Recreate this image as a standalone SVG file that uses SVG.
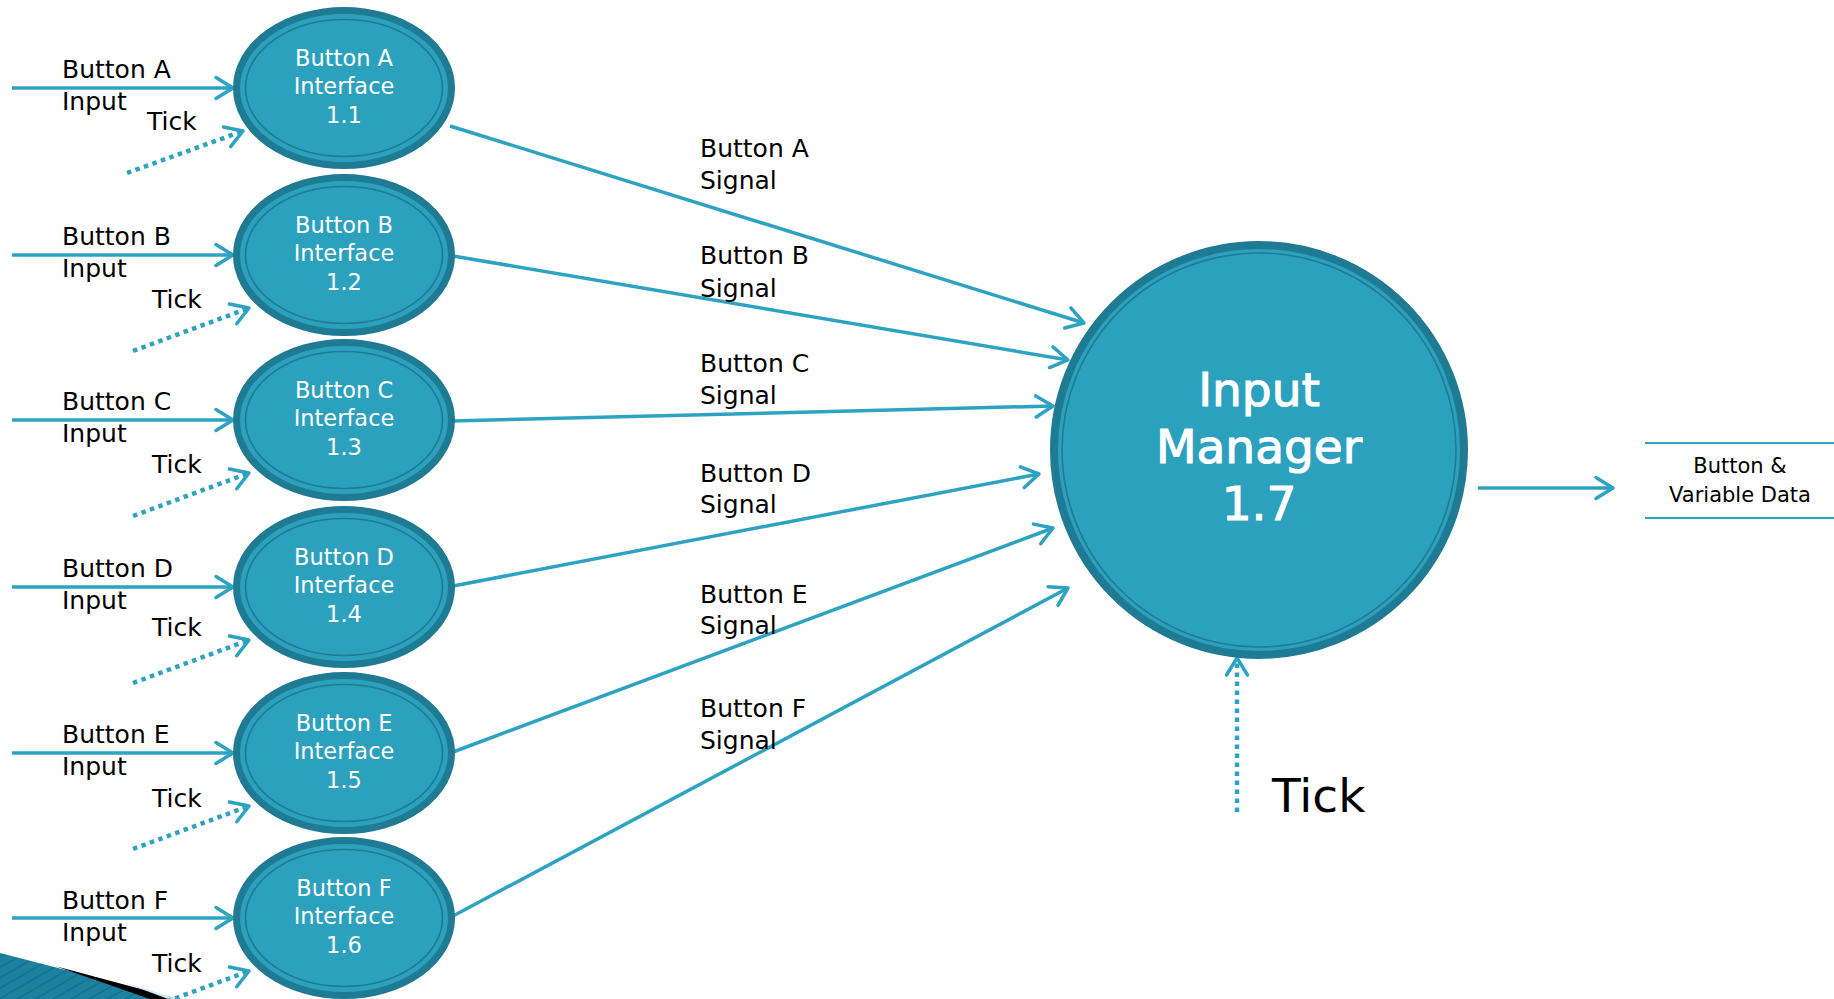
<svg xmlns="http://www.w3.org/2000/svg" width="1834" height="999" viewBox="0 0 1834 999">
  <style>
    .flow { stroke: #2EA3C1; stroke-width: 3.5; fill: none; }
    .tick { stroke: #2EA3C1; stroke-width: 4.5; stroke-dasharray: 4.5 4.5; fill: none; }
    .ring { fill: #2CA1BE; stroke: #1F7B93; stroke-width: 7; }
    .inner { fill: none; stroke: #1F7B93; stroke-width: 1.6; }
    .lbl { font-family: "DejaVu Sans", "Liberation Sans", sans-serif; font-size: 25px; fill: #000; }
    .ntxt { font-family: "DejaVu Sans", "Liberation Sans", sans-serif; font-size: 22.5px; fill: #fff; text-anchor: middle; }
    .big { font-size: 47px; stroke: #fff; stroke-width: 1.1; }
    .store { stroke: #2EA3C1; stroke-width: 2.2; fill: none; }
  </style>
  <defs>
    <marker id="chev" markerUnits="userSpaceOnUse" viewBox="-22 -14 26 28" markerWidth="26" markerHeight="28" refX="0" refY="0" orient="auto">
      <path d="M-17,-10.5 L0,0 L-17,10.5" fill="none" stroke="#2EA3C1" stroke-width="3.5" stroke-linecap="round" stroke-linejoin="round" stroke-dasharray="none"/>
    </marker>
    <pattern id="stripes" patternUnits="userSpaceOnUse" width="9" height="9" patternTransform="rotate(60)">
      <rect width="9" height="9" fill="#1C82A0"/>
      <rect width="1.5" height="9" fill="#16708C"/>
    </pattern>
  </defs>

  <!-- slide corner decoration -->
  <g id="corner">
    <polygon points="0,953 178,999 0,999" fill="url(#stripes)"/>
    <polygon points="55,966 178,999 150,999" fill="#000"/>
    <polygon points="120,981 178,999 168,999" fill="#CFE7EF"/>
  </g>

  <!-- connectors -->
  <g id="connectors">
    <!-- button inputs -->
    <line class="flow" x1="12" y1="88" x2="233" y2="88" marker-end="url(#chev)"/>
    <line class="flow" x1="12" y1="255" x2="233" y2="255" marker-end="url(#chev)"/>
    <line class="flow" x1="12" y1="420" x2="233" y2="420" marker-end="url(#chev)"/>
    <line class="flow" x1="12" y1="587" x2="233" y2="587" marker-end="url(#chev)"/>
    <line class="flow" x1="12" y1="753" x2="233" y2="753" marker-end="url(#chev)"/>
    <line class="flow" x1="12" y1="918" x2="233" y2="918" marker-end="url(#chev)"/>
    <!-- tick inputs -->
    <line class="tick" x1="127" y1="173" x2="243" y2="131" marker-end="url(#chev)"/>
    <line class="tick" x1="133" y1="351" x2="249" y2="308" marker-end="url(#chev)"/>
    <line class="tick" x1="133" y1="516" x2="249" y2="473" marker-end="url(#chev)"/>
    <line class="tick" x1="133" y1="683" x2="249" y2="640" marker-end="url(#chev)"/>
    <line class="tick" x1="133" y1="849" x2="249" y2="806" marker-end="url(#chev)"/>
    <line class="tick" x1="133" y1="1014" x2="249" y2="971" marker-end="url(#chev)"/>
    <!-- signals to manager -->
    <line class="flow" x1="450" y1="126" x2="1084" y2="323" marker-end="url(#chev)"/>
    <line class="flow" x1="453" y1="256" x2="1068" y2="360" marker-end="url(#chev)"/>
    <line class="flow" x1="452" y1="421" x2="1053" y2="406" marker-end="url(#chev)"/>
    <line class="flow" x1="453" y1="586" x2="1039" y2="474" marker-end="url(#chev)"/>
    <line class="flow" x1="453" y1="752" x2="1053" y2="528" marker-end="url(#chev)"/>
    <line class="flow" x1="453" y1="916" x2="1068" y2="588" marker-end="url(#chev)"/>
    <!-- manager tick and output -->
    <line class="tick" x1="1237" y1="812" x2="1237" y2="658" marker-end="url(#chev)"/>
    <line class="flow" x1="1478" y1="488" x2="1613" y2="488" marker-end="url(#chev)"/>
  </g>

  <!-- connector labels -->
  <g id="labels" class="lbl">
    <text x="62" y="78">Button A</text><text x="62" y="110">Input</text><text x="147" y="130">Tick</text>
    <text x="62" y="245">Button B</text><text x="62" y="277">Input</text><text x="152" y="308">Tick</text>
    <text x="62" y="410">Button C</text><text x="62" y="442">Input</text><text x="152" y="473">Tick</text>
    <text x="62" y="577">Button D</text><text x="62" y="609">Input</text><text x="152" y="636">Tick</text>
    <text x="62" y="743">Button E</text><text x="62" y="775">Input</text><text x="152" y="807">Tick</text>
    <text x="62" y="909">Button F</text><text x="62" y="941">Input</text><text x="152" y="972">Tick</text>

    <text x="700" y="157">Button A</text><text x="700" y="189">Signal</text>
    <text x="700" y="264">Button B</text><text x="700" y="297">Signal</text>
    <text x="700" y="372">Button C</text><text x="700" y="404">Signal</text>
    <text x="700" y="482">Button D</text><text x="700" y="513">Signal</text>
    <text x="700" y="603">Button E</text><text x="700" y="634">Signal</text>
    <text x="700" y="717">Button F</text><text x="700" y="749">Signal</text>

    <text x="1272" y="812" style="font-size:47px">Tick</text>
  </g>

  <!-- interface processes -->
  <g id="btnA" transform="translate(344,88)">
    <ellipse class="ring" rx="107.5" ry="77.5"/><ellipse class="inner" rx="98.5" ry="68.5"/>
    <text class="ntxt" y="-22">Button A</text><text class="ntxt" y="6">Interface</text><text class="ntxt" y="35">1.1</text>
  </g>
  <g id="btnB" transform="translate(344,255)">
    <ellipse class="ring" rx="107.5" ry="77.5"/><ellipse class="inner" rx="98.5" ry="68.5"/>
    <text class="ntxt" y="-22">Button B</text><text class="ntxt" y="6">Interface</text><text class="ntxt" y="35">1.2</text>
  </g>
  <g id="btnC" transform="translate(344,420)">
    <ellipse class="ring" rx="107.5" ry="77.5"/><ellipse class="inner" rx="98.5" ry="68.5"/>
    <text class="ntxt" y="-22">Button C</text><text class="ntxt" y="6">Interface</text><text class="ntxt" y="35">1.3</text>
  </g>
  <g id="btnD" transform="translate(344,587)">
    <ellipse class="ring" rx="107.5" ry="77.5"/><ellipse class="inner" rx="98.5" ry="68.5"/>
    <text class="ntxt" y="-22">Button D</text><text class="ntxt" y="6">Interface</text><text class="ntxt" y="35">1.4</text>
  </g>
  <g id="btnE" transform="translate(344,753)">
    <ellipse class="ring" rx="107.5" ry="77.5"/><ellipse class="inner" rx="98.5" ry="68.5"/>
    <text class="ntxt" y="-22">Button E</text><text class="ntxt" y="6">Interface</text><text class="ntxt" y="35">1.5</text>
  </g>
  <g id="btnF" transform="translate(344,918)">
    <ellipse class="ring" rx="107.5" ry="77.5"/><ellipse class="inner" rx="98.5" ry="68.5"/>
    <text class="ntxt" y="-22">Button F</text><text class="ntxt" y="6">Interface</text><text class="ntxt" y="35">1.6</text>
  </g>

  <!-- central process -->
  <g id="manager" transform="translate(1259,450)">
    <circle class="ring" r="205" style="stroke-width:8"/>
    <circle class="inner" r="197"/>
    <text class="ntxt big" y="-44">Input</text>
    <text class="ntxt big" y="13">Manager</text>
    <text class="ntxt big" y="70">1.7</text>
  </g>

  <!-- output data store -->
  <g id="store">
    <line class="store" x1="1645" y1="443" x2="1834" y2="443"/>
    <line class="store" x1="1645" y1="518" x2="1834" y2="518"/>
    <text class="lbl" x="1740" y="473" text-anchor="middle" style="font-size:21px">Button &amp;</text>
    <text class="lbl" x="1740" y="502" text-anchor="middle" style="font-size:21px">Variable Data</text>
  </g>
</svg>
